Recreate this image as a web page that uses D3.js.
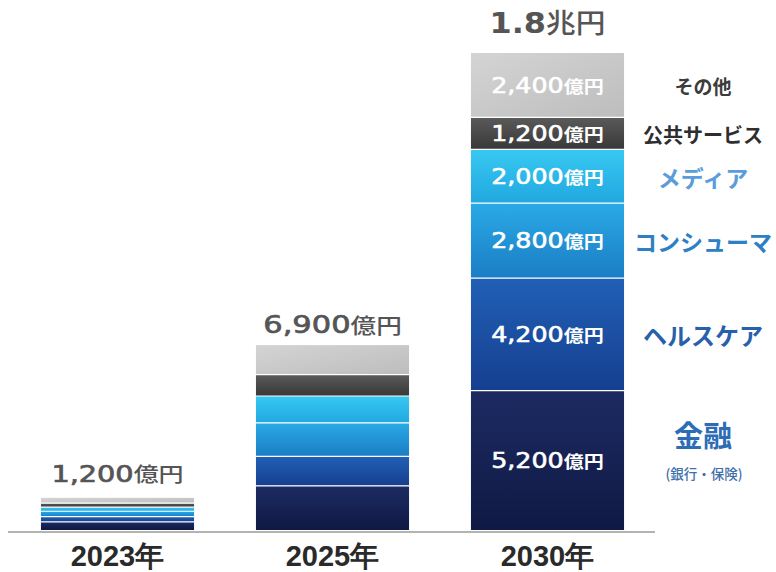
<!DOCTYPE html>
<html>
<head>
<meta charset="utf-8">
<script src="https://cdn.jsdelivr.net/npm/d3@7/dist/d3.min.js"></script>
<style>
  body { margin: 0; background: #fff; }
  svg { display: block; }
</style>
</head>
<body>
<svg id="chart" width="776" height="572"></svg>
<script>
// Market size by segment (unit: 億円), stacked bottom to top
const years = ["2023年", "2025年", "2030年"];
const segments = ["金融", "ヘルスケア", "コンシューマ", "メディア", "公共サービス", "その他"];
const finance    = [300, 1650, 5200];
const healthcare = [200, 1100, 4200];
const consumer   = [200, 1250, 2800];
const media      = [150, 1000, 2000];
const publicSvc  = [150,  800, 1200];
const other      = [200, 1100, 2400];
const financeNote = "(銀行・保険)";

const seriesByKey = {
  "金融": finance, "ヘルスケア": healthcare, "コンシューマ": consumer,
  "メディア": media, "公共サービス": publicSvc, "その他": other
};

// Segment fills (top, bottom of vertical gradient) and legend text colours
const fills = {
  "金融":       ["#1d2b63", "#0f1943"],
  "ヘルスケア": ["#2160b6", "#163f8f"],
  "コンシューマ": ["#2aaae6", "#1b7dc4"],
  "メディア":   ["#38c8f2", "#21a8e0"],
  "公共サービス": ["#5a5a5a", "#383838"],
  "その他":     ["#d4d4d4", "#bdbdbd"]
};
const legendColors = {
  "金融": "#2d6db6", "ヘルスケア": "#2860aa", "コンシューマ": "#2c80c5",
  "メディア": "#5b9dd8", "公共サービス": "#2e2e2e", "その他": "#3c3c3c"
};
const legendSizes = {
  "金融": 29, "ヘルスケア": 24, "コンシューマ": 23,
  "メディア": 23, "公共サービス": 20, "その他": 19
};

const rows = years.map((y, i) => {
  const r = { year: y };
  segments.forEach(k => r[k] = seriesByKey[k][i]);
  return r;
});
const stacked = d3.stack().keys(segments)(rows);
const totals = rows.map(r => d3.sum(segments, k => r[k]));

const svg = d3.select("#chart");
const NUM_FONT = "'DejaVu Sans', sans-serif";
const JP_FONT = "'Noto Sans CJK JP', sans-serif";

const x = d3.scaleBand().domain(years).range([10, 655])
  .paddingInner(0.288).paddingOuter(0.144);
const yMax = d3.max(totals);
const y = d3.scaleLinear().domain([0, yMax]).range([530, 53]);

// gradients
const defs = svg.append("defs");
segments.forEach((k, i) => {
  const g = defs.append("linearGradient").attr("id", "grad" + i)
    .attr("x1", 0).attr("y1", 0).attr("x2", k === "その他" ? 1 : 0).attr("y2", 1);
  g.append("stop").attr("offset", "0%").attr("stop-color", fills[k][0]);
  g.append("stop").attr("offset", "100%").attr("stop-color", fills[k][1]);
});

// stacked bars
const layers = svg.append("g").selectAll("g").data(stacked).join("g")
  .attr("fill", (d, i) => `url(#grad${i})`);
layers.selectAll("rect").data(d => d).join("rect")
  .attr("x", d => x(d.data.year))
  .attr("width", x.bandwidth())
  .attr("y", d => y(d[1]))
  .attr("height", d => y(d[0]) - y(d[1]));

// thin white separators between segments
const seps = svg.append("g").attr("stroke", "#fff").attr("stroke-width", 1.2);
stacked.slice(1).forEach(layer => {
  layer.forEach(d => {
    seps.append("line")
      .attr("x1", x(d.data.year)).attr("x2", x(d.data.year) + x.bandwidth())
      .attr("y1", y(d[0])).attr("y2", y(d[0]));
  });
});

// baseline
svg.append("line").attr("x1", 8).attr("x2", 655)
  .attr("y1", y(0) + 2).attr("y2", y(0) + 2)
  .attr("stroke", "#9a9a9a").attr("stroke-width", 1.5);

// number + unit label, widened horizontally like the display face
function numLabel(parent, cx, cy, num, unit, o) {
  const g = parent.append("g")
    .attr("transform", `translate(${cx},${cy}) scale(${o.sx},1)`);
  const t = g.append("text").attr("text-anchor", "middle")
    .attr("fill", o.color).attr("font-weight", o.weight || "normal")
    .attr("stroke", o.color).attr("stroke-width", o.stroke || 0)
    .attr("paint-order", "stroke");
  t.append("tspan").attr("font-family", NUM_FONT).attr("font-size", o.size).text(num);
  t.append("tspan").attr("font-family", JP_FONT).attr("font-size", o.unitSize)
    .attr("font-weight", o.unitWeight || "normal").attr("stroke-width", 0).text(unit);
  return t;
}

// totals above each bar
const fmt = d3.format(",");
const totalStyles = [
  { size: 23, unitSize: 20, sx: 1.25, gap: 16, stroke: 0.7 },
  { size: 25, unitSize: 21, sx: 1.22, gap: 12, stroke: 0.7 },
  { size: 29, unitSize: 27, sx: 1.1, gap: 20, weight: "bold", stroke: 0 }
];
years.forEach((yr, i) => {
  const tot = totals[i];
  const big = tot >= 10000;
  const num = big ? (tot / 10000).toFixed(1) : fmt(tot);
  const unit = big ? "兆円" : "億円";
  const s = totalStyles[i];
  numLabel(svg, x(yr) + x.bandwidth() / 2, y(tot) - s.gap, num, unit,
    { size: s.size, unitSize: s.unitSize, sx: s.sx, color: "#555", weight: s.weight,
      unitWeight: "500", stroke: s.stroke });
});

// value labels inside the 2030 bar
const lastIdx = years.length - 1;
const cxLast = x(years[lastIdx]) + x.bandwidth() / 2;
stacked.forEach(layer => {
  const d = layer[lastIdx];
  const mid = (y(d[0]) + y(d[1])) / 2;
  numLabel(svg, cxLast, mid + 7.5, fmt(d.data[layer.key]), "億円",
    { size: 21.5, unitSize: 17, sx: 1.18, color: "#fff", unitWeight: "bold", stroke: 0.6 });
});

// segment names to the right of the 2030 bar
const legendX = 703;
stacked.forEach(layer => {
  const k = layer.key;
  const d = layer[lastIdx];
  const mid = (y(d[0]) + y(d[1])) / 2;
  const fs = legendSizes[k];
  if (k === "金融") {
    svg.append("text").attr("x", legendX).attr("y", mid - 24 + fs * 0.36)
      .attr("text-anchor", "middle").attr("font-family", JP_FONT)
      .attr("font-weight", "bold").attr("font-size", fs)
      .attr("fill", legendColors[k]).text(k);
    svg.append("text").attr("x", legendX + 1).attr("y", mid + 14 + 5)
      .attr("text-anchor", "middle").attr("font-family", JP_FONT)
      .attr("font-weight", "500").attr("font-size", 13.5)
      .attr("fill", "#3f6fa8").text(financeNote);
  } else {
    svg.append("text").attr("x", legendX).attr("y", mid + fs * 0.36 + 2)
      .attr("text-anchor", "middle").attr("font-family", JP_FONT)
      .attr("font-weight", "bold").attr("font-size", fs)
      .attr("fill", legendColors[k]).text(k);
  }
});

// year labels
svg.append("g").selectAll("text").data(years).join("text")
  .attr("x", d => x(d) + x.bandwidth() / 2)
  .attr("y", 566)
  .attr("text-anchor", "middle")
  .attr("font-family", "'Liberation Sans', Arial, sans-serif")
  .attr("font-weight", "bold")
  .attr("font-size", 29)
  .attr("fill", "#2a2a2a")
  .text(d => d);
</script>
</body>
</html>
